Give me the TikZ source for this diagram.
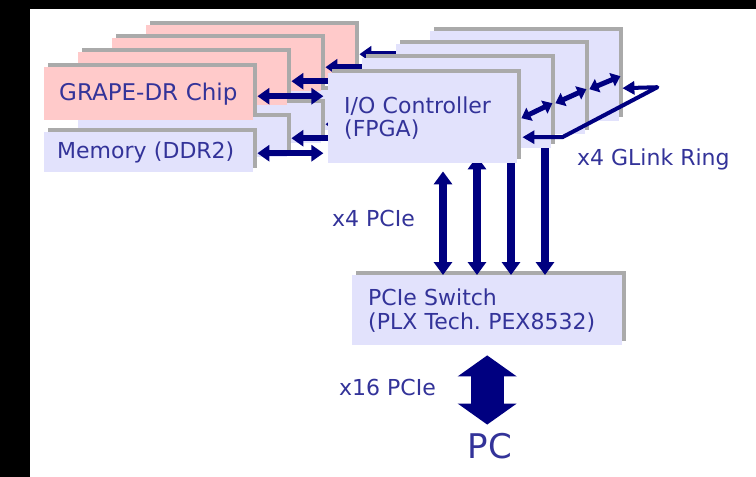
\documentclass[tikz,border=0pt]{standalone}
\usepackage{fontspec}
\setmainfont{DejaVu Sans}
\usetikzlibrary{arrows.meta,shadows}

\begin{document}
\begin{tikzpicture}[x=1pt,y=-1pt,line join=round,
  box/.style={anchor=north west,inner ysep=0pt,align=left,text=labelblue,font=\fontsize{22}{23}\selectfont,
    general shadow={fill=boxgray,shadow xshift=4pt,shadow yshift=4pt}},
  chipbox/.style={box,fill=chippink,minimum width=209pt,minimum height=53pt,inner xsep=15pt,text width=179pt,font=\fontsize{23}{24}\selectfont},
  membox/.style={box,fill=boxlilac,minimum width=209pt,minimum height=40pt,inner xsep=13pt,text width=183pt},
  iobox/.style={box,fill=boxlilac,minimum width=189pt,minimum height=90pt,inner xsep=16pt,text width=157pt},
  swbox/.style={box,fill=boxlilac,minimum width=270pt,minimum height=70pt,inner xsep=16pt,text width=238pt,font=\fontsize{22}{24}\selectfont},
  lbl/.style={anchor=base west,inner sep=0pt,text=labelblue,font=\fontsize{22}{23}\selectfont},
  link/.style={draw=arrownavy,line width=6pt,{Triangle[width=16pt,length=12pt]}-{Triangle[width=16pt,length=12pt]}},
  pcie/.style={draw=arrownavy,line width=8pt,{Triangle[width=18pt,length=13pt]}-{Triangle[width=18pt,length=13pt]}},
  glink/.style={draw=arrownavy,line width=5pt,{Triangle[width=14pt,length=9pt]}-{Triangle[width=14pt,length=9pt]}},
  ring/.style={draw=arrownavy,line width=4pt,{Triangle[width=13pt,length=12pt]}-{Triangle[width=13pt,length=12pt]}},
  pcarrow/.style={draw=arrownavy,line width=33pt,{Triangle[width=58pt,length=21pt]}-{Triangle[width=58pt,length=21pt]}}]
\definecolor{chippink}{HTML}{FFCACA}
\definecolor{boxlilac}{HTML}{E2E2FC}
\definecolor{boxgray}{HTML}{AAAAAA}
\definecolor{arrownavy}{HTML}{000080}
\definecolor{labelblue}{HTML}{333399}
\useasboundingbox (0,0) rectangle (756,477);
\fill[black] (0,0) rectangle (756,477);
\fill[white] (30,9) rectangle (756,477);
\node[swbox] (sw) at (352,275) {PCIe Switch\\(PLX Tech.\ PEX8532)};
% layer D (back)
\node[membox] (memD) at (146,90) {};
\node[chipbox] (chipD) at (146,25) {};
\node[iobox] (ioD) at (430,31) {};
\coordinate (pcieD) at ([xshift=115pt,yshift=-8pt]ioD.south west);
\draw[pcie] (pcieD) -- (pcieD |- sw.north);
\draw[link] ([xshift=4pt,yshift=-2.5pt]chipD.east) -- ++(66,0);
\draw[link] ([xshift=4pt,yshift=-1pt]memD.east) -- ++(66,0);
% layer C
\node[membox] (memC) at (112,103) {};
\node[chipbox] (chipC) at (112,38) {};
\node[iobox] (ioC) at (396,44) {};
\coordinate (pcieC) at ([xshift=115pt,yshift=-8pt]ioC.south west);
\draw[pcie] (pcieC) -- (pcieC |- sw.north);
\draw[link] ([xshift=4pt,yshift=-2.5pt]chipC.east) -- ++(66,0);
\draw[link] ([xshift=4pt,yshift=-1pt]memC.east) -- ++(66,0);
% layer B
\node[membox] (memB) at (78,117) {};
\node[chipbox] (chipB) at (78,52) {};
\node[iobox] (ioB) at (362,58) {};
\coordinate (pcieB) at ([xshift=115pt,yshift=-8pt]ioB.south west);
\draw[pcie] (pcieB) -- (pcieB |- sw.north);
\draw[link] ([xshift=4pt,yshift=-2.5pt]chipB.east) -- ++(66,0);
\draw[link] ([xshift=4pt,yshift=-1pt]memB.east) -- ++(66,0);
% layer A (front)
\node[membox] (memA) at (44,132) {Memory (DDR2)};
\node[chipbox] (chipA) at (44,67) {GRAPE-DR Chip};
\node[iobox] (ioA) at (328,73) {I/O Controller\\(FPGA)};
\coordinate (pcieA) at ([xshift=115pt,yshift=-8pt]ioA.south west);
\draw[pcie] (pcieA) -- (pcieA |- sw.north);
\draw[link] ([xshift=4pt,yshift=-2.5pt]chipA.east) -- ++(66,0);
\draw[link] ([xshift=4pt,yshift=-1pt]memA.east) -- ++(66,0);
% glink ring
\draw[glink] ([xshift=4pt]ioA.east) -- ([xshift=1pt]ioB.east);
\draw[glink] ([xshift=4pt]ioB.east) -- ([xshift=1pt]ioC.east);
\draw[glink] ([xshift=4pt]ioC.east) -- ([xshift=1pt]ioD.east);
\coordinate (ringD) at ([xshift=3pt,yshift=-12pt]ioD.east);
\coordinate (ringA) at ([xshift=5pt,yshift=-19pt]ioA.east);
\draw[ring] (ringD) -- ++(35,-1) -- ++(-95,50) -- (ringA);
\node[lbl] (ringlbl) at (577,165) {x4 GLink Ring};
\node[lbl] (pcielbl) at (332,226) {x4 PCIe};
% host side
\node[anchor=base,inner sep=0pt,text=labelblue,font=\fontsize{34}{36}\selectfont] (pc) at (490,458) {PC};
\node[lbl] (hostlbl) at (339,395) {x16 PCIe};
\draw[pcarrow,shorten <=10pt,shorten >=8pt] (sw.south) -- (sw.south |- pc.north);
\end{tikzpicture}
\end{document}
